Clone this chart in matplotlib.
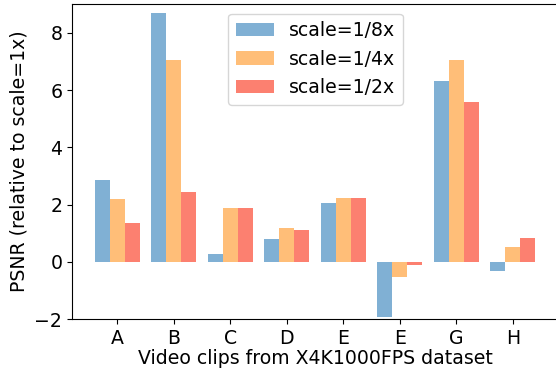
import numpy as np
import matplotlib.pyplot as plt

clips = ["A", "B", "C", "D", "E", "E", "G", "H"]
scale_8 = [2.87, 8.70, 0.28, 0.80, 2.06, -1.92, 6.33, -0.31]
scale_4 = [2.20, 7.06, 1.89, 1.19, 2.24, -0.52, 7.06, 0.52]
scale_2 = [1.36, 2.45, 1.89, 1.12, 2.24, -0.10, 5.59, 0.84]

fig = plt.figure(figsize=(5.56, 3.75), dpi=100)
ax = fig.add_axes([0.1295, 0.1493, 0.876, 0.8397])

x = np.arange(len(clips))
w = 0.8 / 3
ax.bar(x - w, scale_8, w, color="#80b0d4", label="scale=1/8x")
ax.bar(x, scale_4, w, color="#ffbe78", label="scale=1/4x")
ax.bar(x + w, scale_2, w, color="#fc8070", label="scale=1/2x")

fs = 13.6
ax.set_xticks(x)
ax.set_xticklabels(clips)
ax.set_xlim(-0.8, 7.82)
ax.set_ylim(-2, 9)
ax.set_yticks([-2, 0, 2, 4, 6, 8])
ax.tick_params(labelsize=fs)
ax.set_xlabel("Video clips from X4K1000FPS dataset", fontsize=fs, labelpad=1)
ax.set_ylabel("PSNR (relative to scale=1x)", fontsize=fs)
ax.legend(loc="upper center", fontsize=fs)

plt.savefig("out.png", dpi=100)
